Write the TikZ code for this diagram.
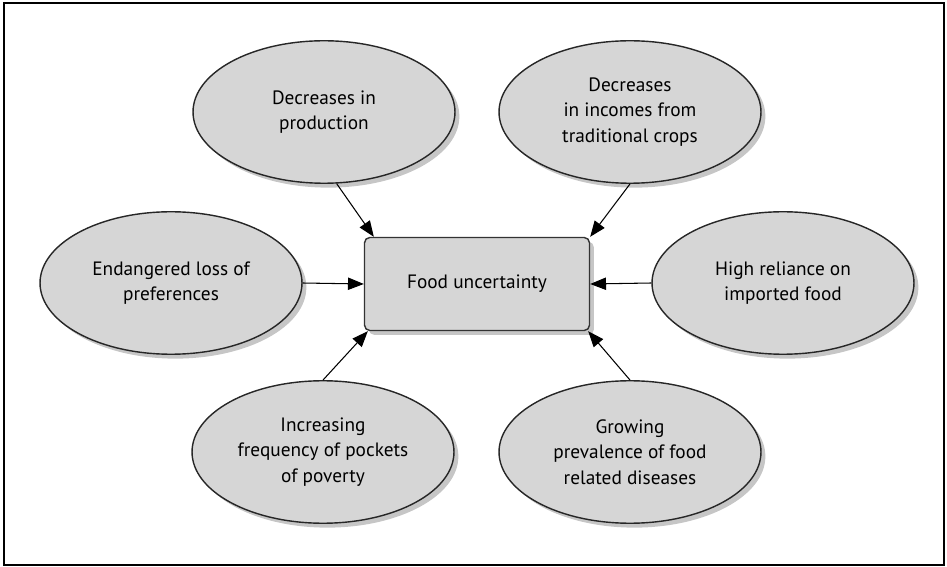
\documentclass[tikz,border=0pt]{standalone}
\usepackage{fontspec}
\setmainfont{PT Sans}
\usetikzlibrary{shapes.geometric,shadows,arrows.meta}
\begin{document}
\begin{tikzpicture}[x=0.02cm,y=-0.02cm,
    cause/.style={ellipse,draw=black!85,line width=0.8pt,fill=black!16,
      minimum width=5.24cm,minimum height=2.85cm,inner sep=0pt,align=center,
      font=\fontsize{11}{14.5}\selectfont,
      drop shadow={shadow xshift=2.5pt,shadow yshift=-2.5pt,opacity=0.45}},
    effectbox/.style={rectangle,rounded corners=3pt,draw=black!80,line width=0.8pt,
      fill=black!16,minimum width=4.5cm,minimum height=1.86cm,
      font=\fontsize{11}{14.5}\selectfont,
      drop shadow={shadow xshift=2.5pt,shadow yshift=-2.5pt,opacity=0.45}},
    link/.style={-{Triangle[length=9pt,width=7pt]},line width=0.6pt}]

       \useasboundingbox (0,0) rectangle (947,567);
       \draw[line width=1pt] (4,3) rectangle (944,565);

       \node[cause] (prod) at (324,112) {Decreases in\\production};
       \node[cause] (income) at (630,112) {Decreases\\in incomes from\\traditional crops};
       \node[cause] (pref) at (171,283) {Endangered loss of\\preferences};
       \node[cause] (import) at (783,283) {High reliance on\\imported food};
       \node[cause] (poverty) at (323,452) {Increasing\\frequency of pockets\\of poverty};
       \node[cause] (disease) at (630,452) {Growing\\prevalence of food\\related diseases};

       \node[effectbox] (food) at (477,284) {Food uncertainty};

       \draw[link] (prod.-80) -- ([xshift=10*0.02cm]food.north west);
       \draw[link] (income.south) -- (food.north east);
       \draw[link] (pref.east) -- (food.west);
       \draw[link] (import.west) -- (food.east);
       \draw[link] (poverty.north) -- ([xshift=4*0.02cm]food.south west);
       \draw[link] (disease.north) -- ([xshift=-2*0.02cm]food.south east);
     \end{tikzpicture}
\end{document}
